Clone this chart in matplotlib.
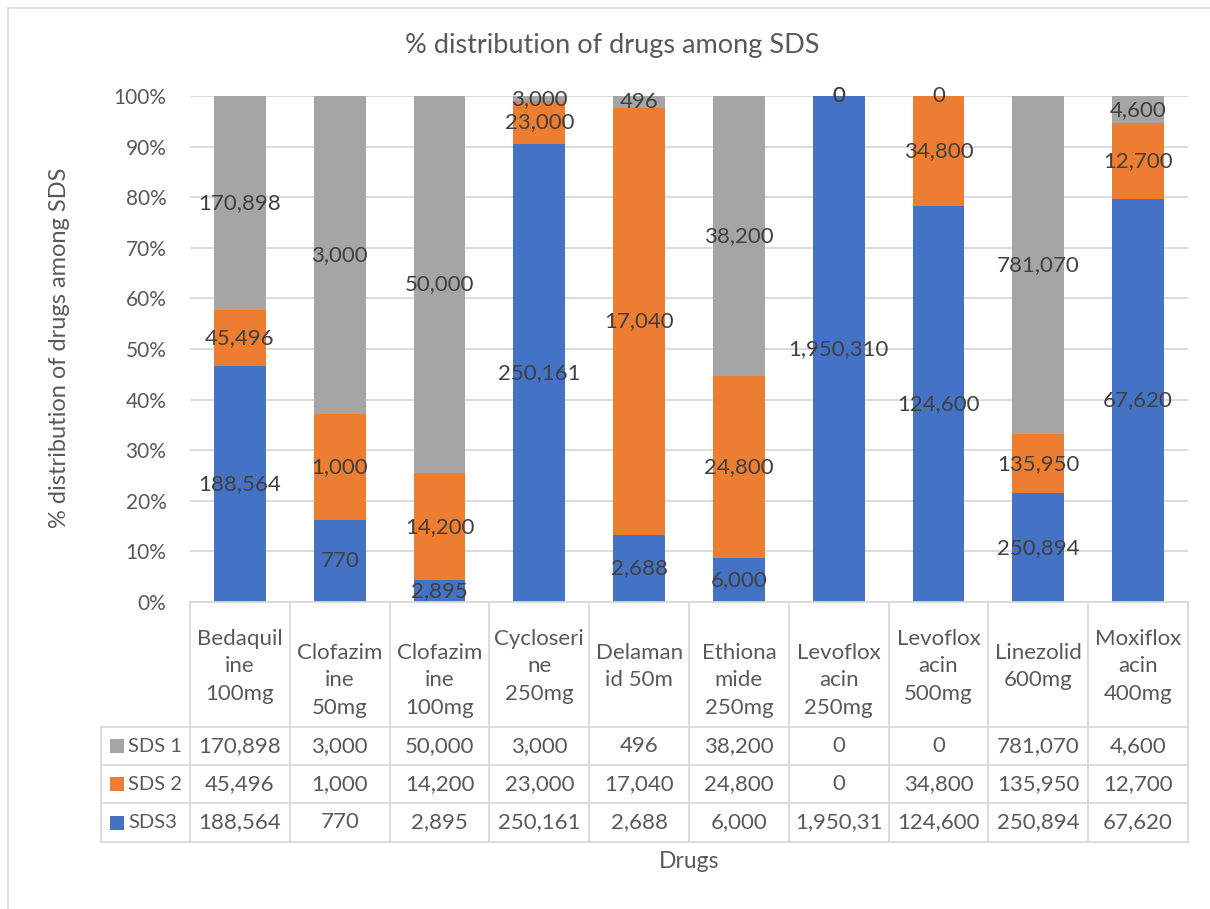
import matplotlib
matplotlib.use("Agg")
import matplotlib.pyplot as plt
from matplotlib.transforms import blended_transform_factory
from matplotlib.lines import Line2D
from matplotlib.patches import Rectangle

# ---------------- data ----------------
drugs = ["Bedaquiline 100mg", "Clofazimine 50mg", "Clofazimine 100mg",
         "Cycloserine 250mg", "Delamanid 50m", "Ethionamide 250mg",
         "Levofloxacin 250mg", "Levofloxacin 500mg", "Linezolid 600mg",
         "Moxifloxacin 400mg"]
drug_labels = ["Bedaquil\nine\n100mg", "\nClofazim\nine\n50mg", "\nClofazim\nine\n100mg",
               "Cycloseri\nne\n250mg", "Delaman\nid 50m", "\nEthiona\nmide\n250mg",
               "\nLevoflox\nacin\n250mg", "Levoflox\nacin\n500mg", "Linezolid\n600mg",
               "Moxiflox\nacin\n400mg"]
sds1 = [170898, 3000, 50000, 3000, 496, 38200, 0, 0, 781070, 4600]
sds2 = [45496, 1000, 14200, 23000, 17040, 24800, 0, 34800, 135950, 12700]
sds3 = [188564, 770, 2895, 250161, 2688, 6000, 1950310, 124600, 250894, 67620]
series_names = ["SDS 1", "SDS 2", "SDS3"]
yticks = [0, 10, 20, 30, 40, 50, 60, 70, 80, 90, 100]
title = "% distribution of drugs among SDS"
ylabel = "% distribution of drugs among SDS"
xlabel = "Drugs"

# ---------------- style ----------------
C_GRAY, C_ORANGE, C_BLUE = "#A5A5A5", "#ED7D31", "#4472C4"
TXT = "#595959"
LBL = "#404040"
GRID = "#D9D9D9"
FONT = ["Lato", "DejaVu Sans"]
plt.rcParams["font.family"] = FONT

W, H = 1210, 909
fig = plt.figure(figsize=(W / 100, H / 100), dpi=100)


def fx(px):
    return px / W


def fy(py):
    return 1 - py / H


L, R, T, B = 190, 1188, 96, 602
ax = fig.add_axes([fx(L), fy(B), fx(R) - fx(L), fy(T) - fy(B)])

totals = [a + b + c for a, b, c in zip(sds1, sds2, sds3)]
p3 = [v / t * 100 for v, t in zip(sds3, totals)]
p2 = [v / t * 100 for v, t in zip(sds2, totals)]
p1 = [v / t * 100 for v, t in zip(sds1, totals)]
x = list(range(len(drugs)))
bw = 0.52

b3 = ax.bar(x, p3, bw, color=C_BLUE, zorder=2)
b2 = ax.bar(x, p2, bw, bottom=p3, color=C_ORANGE, zorder=2)
b1 = ax.bar(x, p1, bw, bottom=[a + b for a, b in zip(p3, p2)], color=C_GRAY, zorder=2)

FS = 16
for bars, vals in ((b3, sds3), (b2, sds2), (b1, sds1)):
    ax.bar_label(bars, labels=[f"{v:,}" for v in vals], label_type="center",
                 fontsize=FS, color=LBL, zorder=3)

ax.set_xlim(-0.5, len(drugs) - 0.5)
ax.set_ylim(0, 100)
ax.set_yticks(yticks)
ax.set_yticklabels([f"{t}%" for t in yticks])
ax.tick_params(axis="y", length=0, pad=17, labelsize=15, labelcolor=TXT)
ax.set_xticks([])
for s in ax.spines.values():
    s.set_visible(False)
ax.yaxis.grid(True, color=GRID, lw=1.3, zorder=0)
ax.set_axisbelow(True)

# titles
fig.text(fx(612), fy(45), title, ha="center", va="center", fontsize=19.5, color=TXT)
fig.text(fx(60), fy(348), ylabel, ha="center", va="center", rotation=90, fontsize=17, color=TXT)
fig.text(fx((L + R) / 2), fy(862), xlabel, ha="center", va="center", fontsize=16.5, color=TXT)

# chart border (only left/top visible)
fig.add_artist(Line2D([fx(7.5), fx(7.5)], [fy(7.5), 0], transform=fig.transFigure, color=GRID, lw=1.1))
fig.add_artist(Line2D([fx(7.5), 1], [fy(7.5), fy(7.5)], transform=fig.transFigure, color=GRID, lw=1.1))

# ---------------- data table ----------------
trans = blended_transform_factory(ax.transData, fig.transFigure)
rows_y = [B, 727, 765, 803, 842]
TL = 101
tl_kw = dict(color=GRID, lw=1.3, zorder=5)

for i in range(len(drugs) + 1):
    fig.add_artist(Line2D([i - 0.5, i - 0.5], [fy(B), fy(rows_y[-1])], transform=trans, **tl_kw))
fig.add_artist(Line2D([fx(TL), fx(TL)], [fy(rows_y[1]), fy(rows_y[-1])], transform=fig.transFigure, **tl_kw))
fig.add_artist(Line2D([fx(L), fx(R)], [fy(B), fy(B)], transform=fig.transFigure, **tl_kw))
for yy in rows_y[1:]:
    fig.add_artist(Line2D([fx(TL), fx(R)], [fy(yy), fy(yy)], transform=fig.transFigure, **tl_kw))

hdr_c = (rows_y[0] + rows_y[1]) / 2 + 2
for i, lab in enumerate(drug_labels):
    fig.text(0, 0, lab, transform=trans, fontsize=FS, color=TXT, ha="center", va="center",
             linespacing=1.46).set_position((i, fy(hdr_c)))

renderer = fig.canvas.get_renderer()
colw = (R - L) / len(drugs)
for r, (name, col, vals) in enumerate(zip(series_names, [C_GRAY, C_ORANGE, C_BLUE], [sds1, sds2, sds3])):
    yc = (rows_y[r + 1] + rows_y[r + 2]) / 2
    fig.add_artist(Rectangle((fx(110), fy(yc + 7)), 14 / W, 14 / H, transform=fig.transFigure,
                             color=col, lw=0))
    fig.text(fx(128), fy(yc), name, ha="left", va="center", fontsize=14.5, color=TXT)
    for i, v in enumerate(vals):
        s = f"{v:,}"
        t = fig.text(0, 0, s, transform=trans, ha="center", va="center", fontsize=FS, color=TXT)
        t.set_position((i, fy(yc)))
        # Excel truncates text that does not fit in the cell
        while t.get_window_extent(renderer).width > colw - 12 and len(s) > 1:
            s = s[:-1]
            t.set_text(s)

fig.savefig("out.png", dpi=100)
